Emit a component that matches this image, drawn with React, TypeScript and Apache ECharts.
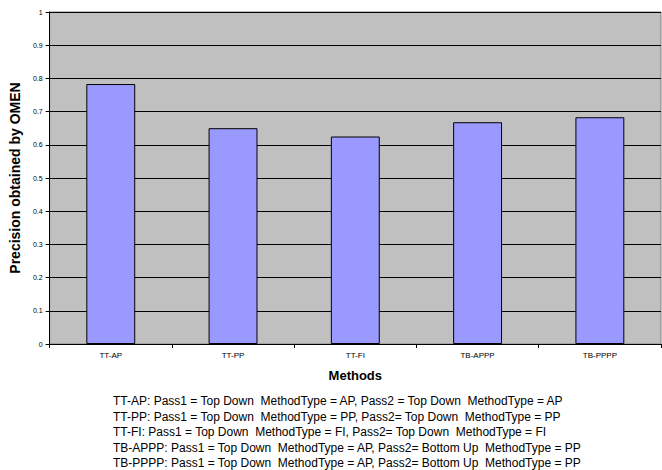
import React, { useEffect, useRef } from "react";
import * as echarts from "echarts";

const categories = ["TT-AP", "TT-PP", "TT-FI", "TB-APPP", "TB-PPPP"];
const precision = [0.783, 0.65, 0.625, 0.668, 0.683];
const yTicks = [0, 0.1, 0.2, 0.3, 0.4, 0.5, 0.6, 0.7, 0.8, 0.9, 1];
const notes = [
  "TT-AP: Pass1 = Top Down  MethodType = AP, Pass2 = Top Down  MethodType = AP",
  "TT-PP: Pass1 = Top Down  MethodType = PP, Pass2= Top Down  MethodType = PP",
  "TT-FI: Pass1 = Top Down  MethodType = FI, Pass2= Top Down  MethodType = FI",
  "TB-APPP: Pass1 = Top Down  MethodType = AP, Pass2= Bottom Up  MethodType = PP",
  "TB-PPPP: Pass1 = Top Down  MethodType = AP, Pass2= Bottom Up  MethodType = PP",
];

const FONT = "Liberation Sans, Arial, sans-serif";

export default function App() {
  const ref = useRef<HTMLDivElement>(null);
  useEffect(() => {
    document.body.style.margin = "0";
    if (!ref.current) return;
    const chart = echarts.init(ref.current, null, { renderer: "svg" });
    chart.setOption({
      animation: false,
      backgroundColor: "#ffffff",
      grid: {
        left: 47,
        right: 1,
        top: 12,
        bottom: 126,
        show: true,
        backgroundColor: "#C0C0C0",
        borderColor: "#808080",
        borderWidth: 1,
      },
      xAxis: {
        type: "category",
        data: categories,
        name: "Methods",
        nameLocation: "middle",
        nameGap: 25,
        nameTextStyle: { fontFamily: FONT, fontSize: 13, fontWeight: "bold", color: "#000" },
        axisLine: { lineStyle: { color: "#000", width: 1 } },
        axisTick: { show: true, length: 4, lineStyle: { color: "#000" } },
        axisLabel: { fontFamily: FONT, fontSize: 8, color: "#000", margin: 7 },
      },
      yAxis: {
        type: "value",
        min: 0,
        max: 1,
        interval: 0.1,
        name: "Precision obtained by OMEN",
        nameLocation: "middle",
        nameGap: 24,
        nameTextStyle: { fontFamily: FONT, fontSize: 14, fontWeight: "bold", color: "#000" },
        axisLine: { show: true, lineStyle: { color: "#000", width: 1 } },
        axisTick: { show: true, length: 4, lineStyle: { color: "#000" } },
        axisLabel: {
          fontFamily: FONT,
          fontSize: 7,
          color: "#000",
          margin: 7,
          formatter: (v: number) => {
            const t = yTicks.find((k) => Math.abs(k - v) < 1e-9);
            return t === undefined ? "" : String(t);
          },
        },
        splitLine: { show: true, lineStyle: { color: "#000", width: 1 } },
      },
      series: [
        {
          type: "bar",
          data: precision,
          barWidth: "40%",
          itemStyle: { color: "#9999FF", borderColor: "#000", borderWidth: 1 },
        },
      ],
      graphic: notes.map((t, i) => ({
        type: "text",
        left: 113,
        top: 395 + i * 15.6,
        style: { text: t, fontFamily: FONT, fontSize: 12, fill: "#000" },
      })),
    });
    return () => chart.dispose();
  }, []);
  return <div ref={ref} style={{ width: 662, height: 470 }} />;
}
